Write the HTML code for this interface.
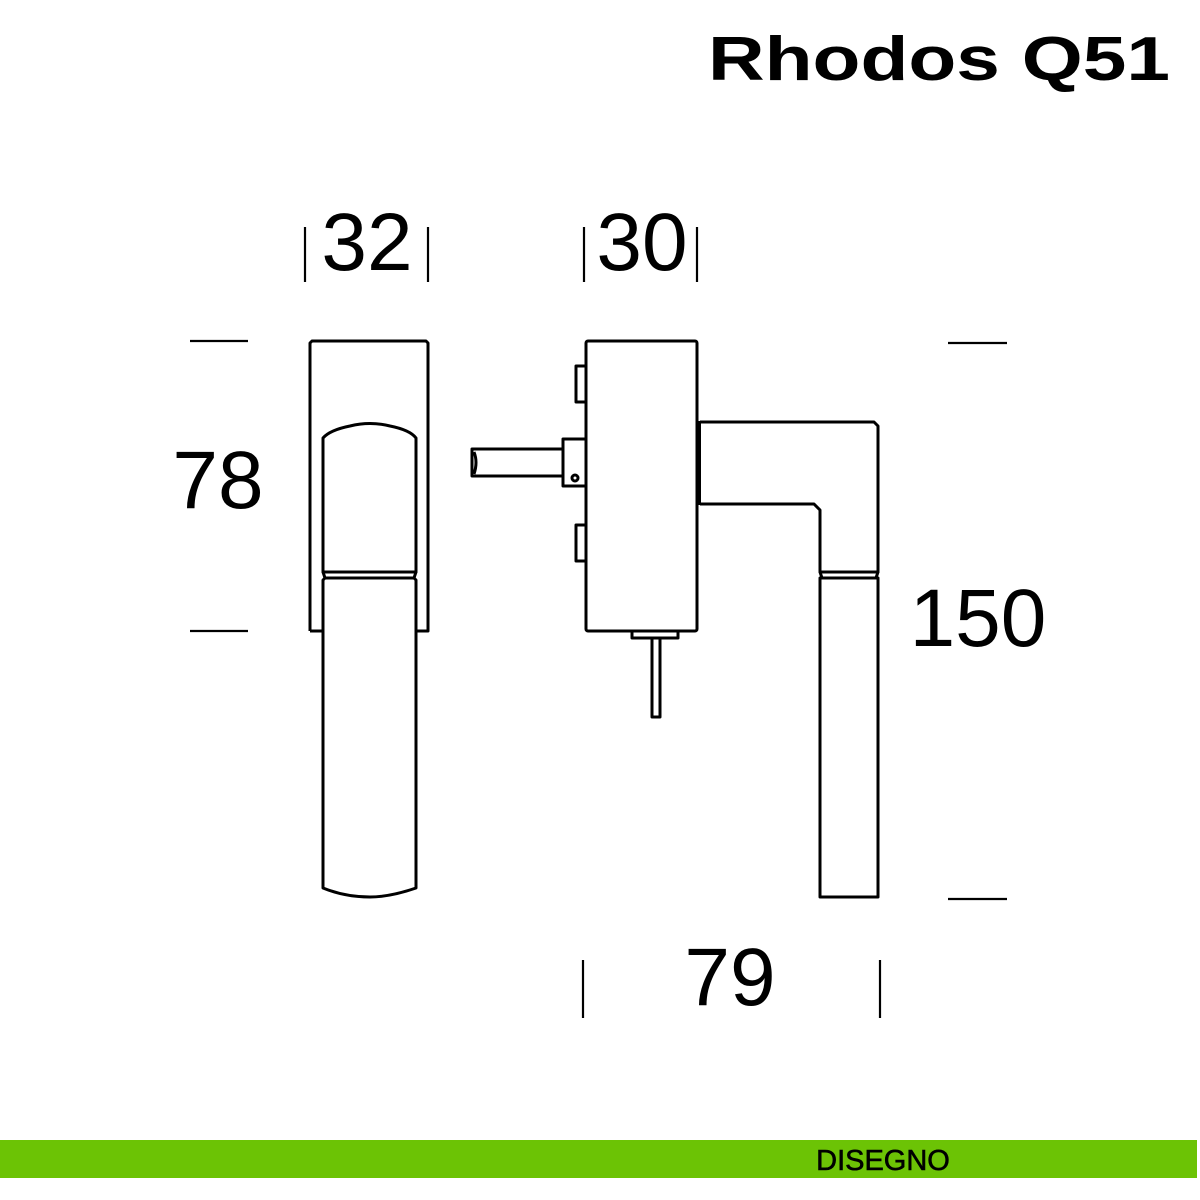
<!DOCTYPE html>
<html><head><style>html,body{margin:0;padding:0;background:#fff;width:1200px;height:1200px;overflow:hidden}</style></head>
<body>
<svg width="1200" height="1200" viewBox="0 0 1200 1200" xmlns="http://www.w3.org/2000/svg">
<text x="708" y="80" font-family="Liberation Sans, sans-serif" font-weight="bold" font-size="62" textLength="462" lengthAdjust="spacingAndGlyphs">Rhodos Q51</text>
<g font-family="Liberation Sans, sans-serif" font-size="82" text-anchor="middle" fill="#000">
<text x="367" y="270">32</text>
<text x="642" y="270">30</text>
<text x="218" y="508">78</text>
<text x="978" y="646">150</text>
<text x="730" y="1005">79</text>
</g>
<g stroke="#000" stroke-width="2.2" fill="none">
<line x1="305" y1="227" x2="305" y2="282"/><line x1="428" y1="227" x2="428" y2="282"/>
<line x1="584" y1="227" x2="584" y2="282"/><line x1="697" y1="227" x2="697" y2="282"/>
<line x1="190" y1="341" x2="248" y2="341"/><line x1="190" y1="631" x2="248" y2="631"/>
<line x1="948" y1="343" x2="1007" y2="343"/><line x1="948" y1="899" x2="1007" y2="899"/>
<line x1="583" y1="960" x2="583" y2="1018"/><line x1="880" y1="960" x2="880" y2="1018"/>
</g>
<g stroke="#000" stroke-width="3" fill="none" stroke-linejoin="round">
<path d="M310 631 V343 L312 341 H426 L428 343 V631 H416"/>
<path d="M310 631 H323"/>
<path d="M323 572 V438 Q330 430 350 426 Q370 421 390 426 Q410 430 416 438 V572 Z"/>
<path d="M323 572 L325 578 H414 L416 572"/>
<path d="M325 578 H414 L416 580 V888 Q390 897 370 897 Q345 897 323 888 V580 Z"/>
<rect x="586" y="341" width="111" height="290" rx="2"/>
<path d="M586 366 H576 V402 H586"/>
<path d="M586 525 H576 V561 H586"/>
<rect x="563" y="439" width="23" height="47"/>
<path d="M563 449 H472 V476 H563"/>
<path d="M474 452 Q478 462 474 474"/>
<circle cx="575" cy="478" r="3"/>
<rect x="632" y="631" width="46" height="7"/>
<rect x="652" y="638" width="8" height="79"/>
<path d="M700 422 H874 L878 426 V572 H820 V510 L814 504 H700"/>
<path d="M820 572 L822 578 H876 L878 572"/>
<path d="M820 578 H878 V897 H820 Z"/>
</g>
<rect x="697" y="421" width="4" height="84" fill="#000"/>
<rect x="0" y="1140" width="1197" height="38" fill="#6cc305"/>
<text x="883" y="1170" font-family="Liberation Sans, sans-serif" font-size="29" text-anchor="middle" fill="#000" stroke="#000" stroke-width="0.6">DISEGNO</text>
</svg>
</body></html>
